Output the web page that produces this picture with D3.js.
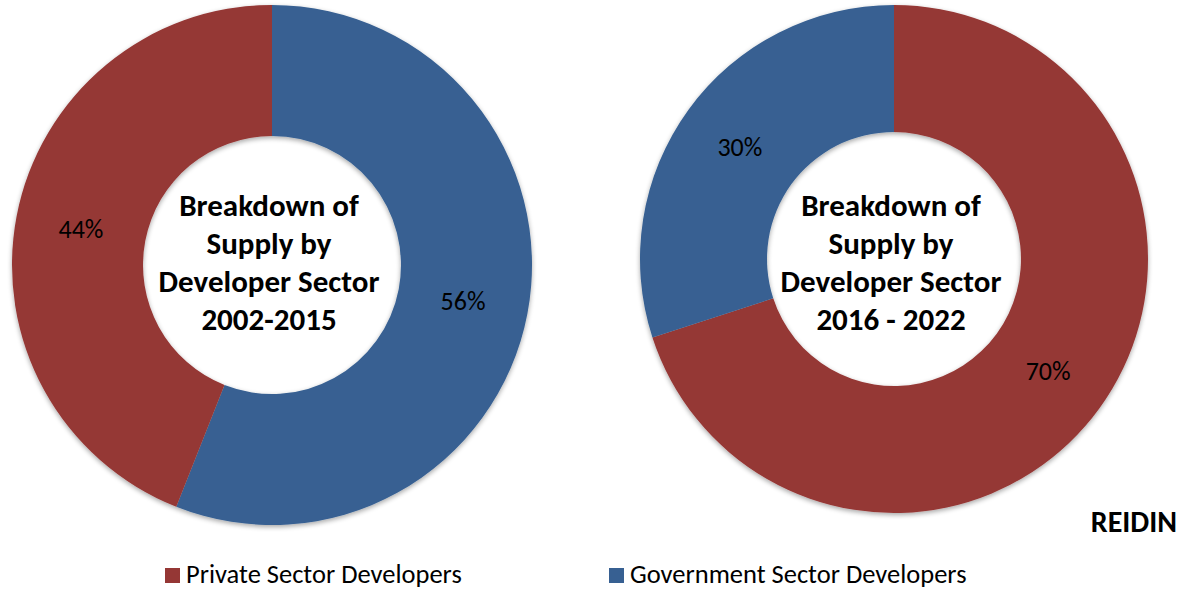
<!DOCTYPE html>
<html>
<head>
<meta charset="utf-8">
<script src="https://cdn.jsdelivr.net/npm/d3@7/dist/d3.min.js"></script>
<style>
  html, body { margin: 0; padding: 0; background: #fff; }
  svg { display: block; font-family: Carlito, "Open Sans", sans-serif; }
</style>
</head>
<body>
<svg id="chart" width="1182" height="590"></svg>
<script>
// Supply share by developer sector, two periods
const periodA = "2002-2015";
const periodB = "2016 - 2022";
const sectorsA = ["Government Sector Developers", "Private Sector Developers"];
const valuesA = [56, 44];
const sectorsB = ["Private Sector Developers", "Government Sector Developers"];
const valuesB = [70, 30];
const legendLabels = ["Private Sector Developers", "Government Sector Developers"];
const centerLines = ["Breakdown of", "Supply by", "Developer Sector"];
const sourceLabel = "REIDIN";

const color = d3.scaleOrdinal()
  .domain(legendLabels)
  .range(["#953735", "#376092"]);

const svg = d3.select("#chart");

const defs = svg.append("defs");
const shadow = defs.append("filter").attr("id", "soft")
  .attr("x", "-10%").attr("y", "-10%").attr("width", "120%").attr("height", "120%");
shadow.append("feGaussianBlur").attr("in", "SourceAlpha").attr("stdDeviation", 2.5).attr("result", "b");
shadow.append("feOffset").attr("in", "b").attr("dx", 0).attr("dy", 1.5).attr("result", "o");
shadow.append("feComponentTransfer").attr("in", "o").attr("result", "s")
  .append("feFuncA").attr("type", "linear").attr("slope", 0.35);
const merge = shadow.append("feMerge");
merge.append("feMergeNode").attr("in", "s");
merge.append("feMergeNode").attr("in", "SourceGraphic");

const pie = d3.pie().sort(null).value(d => d.value);

function donut(cx, cy, outer, inner, sectors, values, period) {
  const data = sectors.map((s, i) => ({ sector: s, value: values[i] }));
  const arcs = pie(data);
  const arc = d3.arc().innerRadius(inner).outerRadius(outer);
  const g = svg.append("g").attr("transform", `translate(${cx},${cy})`);

  g.append("g").attr("filter", "url(#soft)")
    .selectAll("path").data(arcs).join("path")
    .attr("d", arc)
    .attr("fill", d => color(d.data.sector));

  g.selectAll("text.pct").data(arcs).join("text")
    .attr("class", "pct")
    .attr("transform", d => `translate(${arc.centroid(d)})`)
    .attr("text-anchor", "middle")
    .attr("y", 9)
    .attr("font-size", 26)
    .attr("fill", "#000")
    .text(d => d.data.value + "%");

  // title block inside the hole
  const lines = centerLines.concat([period]);
  svg.append("g").attr("transform", `translate(${cx - 3},0)`)
    .selectAll("text").data(lines).join("text")
    .attr("y", (d, i) => 216 + i * 38)
    .attr("text-anchor", "middle")
    .attr("font-size", 31)
    .attr("font-weight", "bold")
    .attr("fill", "#000")
    .text(d => d);
}

donut(272, 265, 260, 129, sectorsA, valuesA, periodA);
donut(894, 259, 254, 127, sectorsB, valuesB, periodB);

// source tag
svg.append("text")
  .attr("x", 1177).attr("y", 532)
  .attr("text-anchor", "end")
  .attr("font-size", 30)
  .attr("font-weight", "bold")
  .attr("fill", "#000")
  .text(sourceLabel);

// legend
const legendX = [165, 609];
const legend = svg.selectAll("g.legend").data(legendLabels).join("g")
  .attr("class", "legend")
  .attr("transform", (d, i) => `translate(${legendX[i]},568)`);
legend.append("rect").attr("width", 15).attr("height", 15).attr("fill", d => color(d));
legend.append("text")
  .attr("x", 21).attr("y", 15)
  .attr("font-size", 26.5)
  .attr("fill", "#000")
  .text(d => d);
</script>
</body>
</html>
